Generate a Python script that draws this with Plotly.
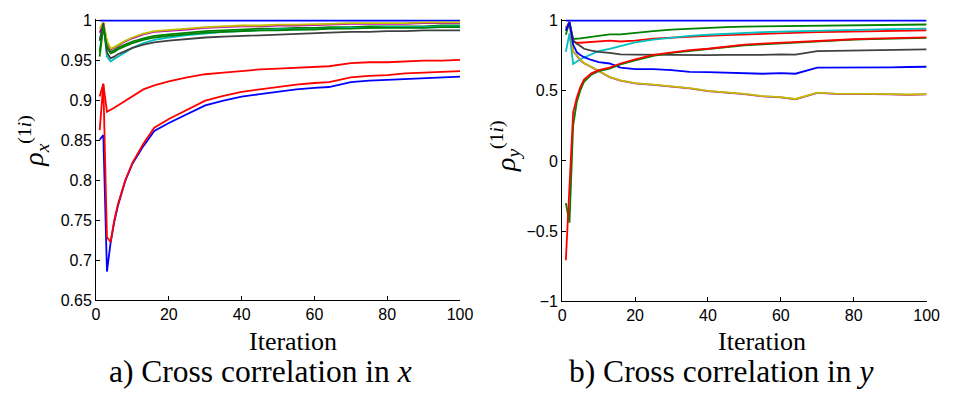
import plotly.graph_objects as go

W, H = 956, 394

# ---------------- data ----------------
ITER = [1, 2, 3, 4, 5, 6, 8, 10, 13, 16, 20, 25, 30, 35, 40, 45, 50, 55, 60, 64, 70, 75, 80, 85, 90, 95, 100]

# panel a) cross correlation in x
ax_blue1 = [1.0] * 27
ax_green1 = [0.961, 0.995, 0.968, 0.961, 0.963, 0.966, 0.970, 0.974, 0.978, 0.981, 0.983, 0.985, 0.987, 0.988, 0.989, 0.990, 0.990, 0.991, 0.991, 0.992, 0.992, 0.993, 0.993, 0.993, 0.993, 0.994, 0.994]
ax_red1 = [0.905, 0.921, 0.886, 0.888, 0.891, 0.894, 0.900, 0.906, 0.914, 0.919, 0.924, 0.929, 0.933, 0.935, 0.937, 0.939, 0.940, 0.941, 0.942, 0.943, 0.947, 0.948, 0.948, 0.949, 0.950, 0.950, 0.951]
ax_cyan = [0.975, 0.997, 0.955, 0.949, 0.952, 0.955, 0.961, 0.966, 0.972, 0.976, 0.979, 0.982, 0.984, 0.986, 0.987, 0.988, 0.989, 0.989, 0.990, 0.990, 0.991, 0.991, 0.992, 0.992, 0.992, 0.993, 0.993]
ax_magenta = [0.985, 0.997, 0.973, 0.964, 0.966, 0.969, 0.974, 0.978, 0.983, 0.986, 0.987, 0.989, 0.991, 0.992, 0.993, 0.993, 0.994, 0.994, 0.995, 0.995, 0.996, 0.996, 0.996, 0.996, 0.997, 0.997, 0.997]
ax_olive = [0.990, 0.998, 0.975, 0.965, 0.967, 0.970, 0.975, 0.979, 0.984, 0.987, 0.988, 0.990, 0.992, 0.993, 0.994, 0.994, 0.995, 0.995, 0.996, 0.996, 0.997, 0.997, 0.997, 0.997, 0.998, 0.998, 0.998]
ax_gray = [0.975, 0.997, 0.960, 0.953, 0.955, 0.958, 0.962, 0.966, 0.970, 0.973, 0.975, 0.977, 0.979, 0.980, 0.981, 0.982, 0.983, 0.984, 0.985, 0.985, 0.986, 0.986, 0.987, 0.987, 0.988, 0.988, 0.988]
ax_blue2 = [0.851, 0.857, 0.686, 0.722, 0.748, 0.768, 0.799, 0.821, 0.843, 0.862, 0.872, 0.883, 0.894, 0.900, 0.905, 0.908, 0.911, 0.914, 0.916, 0.917, 0.923, 0.925, 0.926, 0.927, 0.928, 0.929, 0.930]
ax_green2 = [0.955, 0.993, 0.966, 0.959, 0.961, 0.964, 0.968, 0.972, 0.976, 0.979, 0.981, 0.983, 0.985, 0.986, 0.987, 0.988, 0.988, 0.989, 0.989, 0.990, 0.990, 0.991, 0.991, 0.991, 0.991, 0.992, 0.992]
ax_red2 = [0.863, 0.921, 0.729, 0.723, 0.750, 0.770, 0.800, 0.822, 0.846, 0.866, 0.877, 0.889, 0.900, 0.906, 0.911, 0.914, 0.917, 0.920, 0.922, 0.923, 0.929, 0.931, 0.932, 0.934, 0.935, 0.936, 0.937]

# panel b) cross correlation in y
ay_blue1 = [1.0] * 27
ay_green1 = [0.900, 0.990, 0.870, 0.870, 0.874, 0.878, 0.885, 0.895, 0.903, 0.903, 0.915, 0.926, 0.936, 0.943, 0.949, 0.954, 0.958, 0.960, 0.962, 0.963, 0.966, 0.968, 0.969, 0.970, 0.971, 0.972, 0.973]
ay_red1 = [0.950, 0.990, 0.850, 0.843, 0.843, 0.845, 0.850, 0.855, 0.858, 0.852, 0.858, 0.873, 0.881, 0.888, 0.893, 0.898, 0.903, 0.907, 0.911, 0.914, 0.918, 0.921, 0.923, 0.926, 0.928, 0.930, 0.932]
ay_cyan = [0.778, 0.910, 0.692, 0.710, 0.725, 0.738, 0.760, 0.783, 0.800, 0.818, 0.845, 0.866, 0.881, 0.892, 0.900, 0.907, 0.913, 0.918, 0.922, 0.925, 0.930, 0.933, 0.936, 0.938, 0.940, 0.942, 0.943]
ay_magenta = [0.950, 0.990, 0.780, 0.753, 0.718, 0.697, 0.670, 0.640, 0.598, 0.573, 0.553, 0.543, 0.533, 0.518, 0.498, 0.488, 0.476, 0.460, 0.453, 0.440, 0.485, 0.478, 0.475, 0.476, 0.475, 0.472, 0.475]
ay_olive = [0.950, 0.990, 0.780, 0.756, 0.720, 0.699, 0.672, 0.642, 0.600, 0.575, 0.555, 0.545, 0.535, 0.520, 0.500, 0.490, 0.478, 0.462, 0.455, 0.442, 0.487, 0.480, 0.477, 0.478, 0.477, 0.474, 0.477]
ay_gray = [0.930, 0.990, 0.860, 0.836, 0.820, 0.800, 0.787, 0.778, 0.770, 0.760, 0.758, 0.757, 0.756, 0.752, 0.755, 0.757, 0.755, 0.757, 0.760, 0.758, 0.783, 0.785, 0.787, 0.790, 0.792, 0.794, 0.795]
ay_blue2 = [0.930, 0.990, 0.830, 0.776, 0.756, 0.740, 0.720, 0.705, 0.695, 0.665, 0.655, 0.655, 0.648, 0.635, 0.633, 0.628, 0.626, 0.622, 0.627, 0.622, 0.665, 0.665, 0.664, 0.666, 0.668, 0.670, 0.672]
ay_green2 = [-0.300, -0.440, 0.250, 0.420, 0.505, 0.565, 0.615, 0.640, 0.658, 0.688, 0.718, 0.750, 0.770, 0.785, 0.796, 0.811, 0.825, 0.832, 0.839, 0.845, 0.855, 0.860, 0.865, 0.869, 0.873, 0.876, 0.878]
ay_red2 = [-0.708, -0.180, 0.345, 0.450, 0.528, 0.580, 0.625, 0.648, 0.665, 0.695, 0.725, 0.756, 0.775, 0.790, 0.800, 0.815, 0.829, 0.836, 0.843, 0.848, 0.858, 0.863, 0.868, 0.872, 0.876, 0.879, 0.881]

X_TICKS = [0, 20, 40, 60, 80, 100]
X_TICKTEXT = ["0", "20", "40", "60", "80", "100"]
YA_TICKS = [0.65, 0.7, 0.75, 0.8, 0.85, 0.9, 0.95, 1.0]
YA_TICKTEXT = ["0.65", "0.7", "0.75", "0.8", "0.85", "0.9", "0.95", "1"]
YB_TICKS = [-1, -0.5, 0, 0.5, 1]
YB_TICKTEXT = ["\u22121", "\u22120.5", "0", "0.5", "1"]

COLORS = ["#0000FF", "#008000", "#FF0000", "#00BFBF", "#BF00BF", "#BFBF00", "#404040", "#0000FF", "#008000", "#FF0000"]

SERIES_A = [ax_blue1, ax_green1, ax_red1, ax_cyan, ax_magenta, ax_olive, ax_gray, ax_blue2, ax_green2, ax_red2]
SERIES_B = [ay_blue1, ay_green1, ay_red1, ay_cyan, ay_magenta, ay_olive, ay_gray, ay_blue2, ay_green2, ay_red2]

# ---------------- layout helpers ----------------
def fx(p):
    return p / W

def fy(p):
    return 1 - p / H

fig = go.Figure()
for vals, c in zip(SERIES_A, COLORS):
    fig.add_trace(go.Scatter(x=ITER, y=vals, mode="lines", line=dict(color=c, width=1.8),
                             xaxis="x", yaxis="y", showlegend=False, hoverinfo="skip"))
for vals, c in zip(SERIES_B, COLORS):
    fig.add_trace(go.Scatter(x=ITER, y=vals, mode="lines", line=dict(color=c, width=1.8),
                             xaxis="x2", yaxis="y2", showlegend=False, hoverinfo="skip"))

tickfont = dict(family="Liberation Sans, Arial, sans-serif", size=16, color="black")
common = dict(showgrid=False, zeroline=False, showline=True, linecolor="black", linewidth=1,
              ticks="inside", ticklen=4, tickcolor="black", tickwidth=1, tickfont=tickfont,
              mirror=False, fixedrange=True)

# pixel geometry
A_L, A_R = 93.7, 464.3
B_L, B_R = 568.3, 939.3
A_TOP1, A_BOT = 14.3, 305.7   # y=1 and y=0.65
B_TOP1, B_BOT = 14.3, 306.7   # y=1 and y=-1
a_ppu = (A_BOT - A_TOP1) / 0.35
b_ppu = (B_BOT - B_TOP1) / 2.0
ext = 1.7  # extra pixels above y=1 so the top line is not clipped
a_top = 1 + ext / a_ppu
b_top = 1 + ext / b_ppu

fig.update_layout(
    width=W, height=H,
    margin=dict(l=0, r=0, t=0, b=0),
    paper_bgcolor="white", plot_bgcolor="white",
    xaxis=dict(domain=[fx(A_L), fx(A_R)], range=[0, 100], anchor="y",
               tickvals=X_TICKS, ticktext=X_TICKTEXT, **common),
    yaxis=dict(domain=[fy(A_BOT), fy(A_TOP1 - ext)], range=[0.65, a_top], anchor="x",
               tickvals=YA_TICKS, ticktext=YA_TICKTEXT, **common),
    xaxis2=dict(domain=[fx(B_L), fx(B_R)], range=[0, 100], anchor="y2",
                tickvals=X_TICKS, ticktext=X_TICKTEXT, **common),
    yaxis2=dict(domain=[fy(B_BOT), fy(B_TOP1 - ext)], range=[-1, b_top], anchor="x2",
                tickvals=YB_TICKS, ticktext=YB_TICKTEXT, **common),
)

serif = "Liberation Serif, Times New Roman, serif"
ann = [
    dict(text="Iteration", x=fx(294), y=fy(349), size=26, angle=0),
    dict(text="Iteration", x=fx(772), y=fy(349), size=26, angle=0),
    dict(text="a) Cross correlation in <i>x</i>", x=fx(261), y=fy(380), size=31.5, angle=0),
    dict(text="b) Cross correlation in <i>y</i>", x=fx(730), y=fy(380), size=31.5, angle=0),
    dict(text="<i>\u03c1</i><sub><i>x</i></sub><sup>(1<i>i</i>)</sup>", x=fx(30), y=fy(140), size=28, angle=-90),
    dict(text="<i>\u03c1</i><sub><i>y</i></sub><sup>(1<i>i</i>)</sup>", x=fx(510), y=fy(145), size=28, angle=-90),
]
for a in ann:
    fig.add_annotation(text=a["text"], x=a["x"], y=a["y"], xref="paper", yref="paper",
                       xanchor="center", yanchor="middle", showarrow=False, textangle=a["angle"],
                       font=dict(family=serif, size=a["size"], color="black"))

fig.write_html("out.html")
